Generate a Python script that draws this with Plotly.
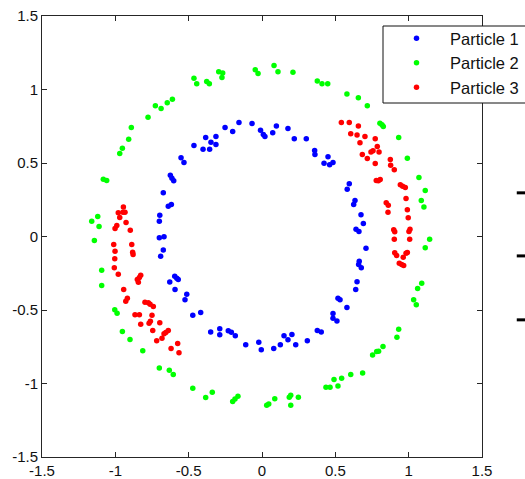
import plotly.graph_objects as go

# Particle 1 (blue, inner ring)
p1_x = [-0.700, -0.668, -0.700, -0.697, -0.639, -0.618, -0.673, -0.625, -0.614, -0.602,
        -0.552, -0.532, -0.464, -0.402, -0.384, -0.357, -0.348, -0.314, -0.314, -0.252,
        -0.200, -0.157, -0.068, -0.010, 0.009, 0.020, 0.073, 0.098, 0.177, 0.220,
        0.302, 0.359, 0.361, 0.423, 0.450, 0.461, 0.484, 0.595, 0.581, 0.634,
        0.625, 0.675, 0.691, 0.641, 0.661, 0.709, 0.663, 0.659, 0.677, 0.648,
        0.639, 0.518, 0.532, 0.579, 0.484, 0.484, 0.511, 0.377, 0.404, 0.309,
        0.204, 0.150, 0.177, 0.230, 0.125, 0.080, -0.005, -0.022, -0.111, -0.182,
        -0.209, -0.230, -0.288, -0.288, -0.350, -0.418, -0.472, -0.513, -0.525, -0.593,
        -0.629, -0.595, -0.581, -0.571, -0.691, -0.673]
p1_y = [-0.009, -0.002, 0.104, 0.145, 0.206, 0.218, 0.297, 0.417, 0.397, 0.379,
        0.536, 0.504, 0.619, 0.594, 0.674, 0.594, 0.642, 0.681, 0.626, 0.742,
        0.715, 0.776, 0.769, 0.722, 0.694, 0.681, 0.706, 0.751, 0.735, 0.665,
        0.665, 0.585, 0.558, 0.499, 0.542, 0.488, 0.504, 0.359, 0.322, 0.245,
        0.218, 0.148, 0.088, 0.050, 0.034, -0.080, -0.168, -0.191, -0.213, -0.308,
        -0.361, -0.420, -0.431, -0.483, -0.524, -0.556, -0.574, -0.640, -0.649, -0.710,
        -0.667, -0.676, -0.703, -0.737, -0.737, -0.762, -0.771, -0.720, -0.737, -0.676,
        -0.651, -0.642, -0.628, -0.669, -0.649, -0.517, -0.536, -0.393, -0.431, -0.361,
        -0.309, -0.270, -0.284, -0.293, -0.134, -0.091]

# Particle 2 (green, outer ring)
p2_x = [-1.161, -1.120, -1.111, -1.143, -1.082, -1.059, -0.970, -0.952, -0.909, -0.891,
        -0.777, -0.727, -0.688, -0.646, -0.611, -0.464, -0.445, -0.377, -0.359, -0.295,
        -0.268, -0.273, -0.046, -0.027, 0.082, 0.109, 0.211, 0.377, 0.409, 0.448,
        0.579, 0.657, 0.718, 0.804, 0.818, 0.827, 0.932, 0.991, 1.070, 1.113,
        1.086, 1.104, 1.143, 1.113, 1.089, 1.061, 1.034, 1.052, 0.932, 0.920,
        0.825, 0.795, 0.782, 0.754, 0.686, 0.605, 0.543, 0.491, 0.518, 0.464,
        0.436, 0.248, 0.196, 0.186, 0.196, 0.087, 0.046, 0.032, -1.093, -1.093,
        -1.004, -0.988, -0.952, -0.900, -0.813, -0.700, -0.632, -0.605, -0.472, -0.384,
        -0.339, -0.200, -0.184, -0.164]
p2_y = [0.104, 0.136, 0.068, -0.027, 0.390, 0.381, 0.565, 0.601, 0.662, 0.742,
        0.812, 0.890, 0.871, 0.910, 0.933, 1.076, 1.039, 1.055, 1.039, 1.121,
        1.112, 1.082, 1.135, 1.108, 1.164, 1.121, 1.118, 1.057, 1.039, 1.039,
        0.969, 0.944, 0.890, 0.771, 0.760, 0.749, 0.674, 0.533, 0.402, 0.313,
        0.245, 0.200, -0.018, -0.077, -0.318, -0.354, -0.431, -0.465, -0.631, -0.685,
        -0.749, -0.781, -0.783, -0.806, -0.928, -0.939, -0.964, -0.973, -1.017, -1.026,
        -1.026, -1.094, -1.080, -1.094, -1.148, -1.103, -1.139, -1.148, -0.229, -0.334,
        -0.499, -0.522, -0.647, -0.701, -0.778, -0.894, -0.910, -0.939, -1.033, -1.096,
        -1.060, -1.123, -1.105, -1.087]

# Particle 3 (red, two arcs)
p3_x = [-0.945, -0.980, -0.948, -0.934, -0.970, -0.927, -0.990, -1.002, -0.898, -1.011,
        -0.888, -1.002, -0.882, -0.879, -1.004, -1.007, -0.980, -0.827, -0.836, -0.850,
        -0.843, -0.943, -0.918, -0.929, -0.798, -0.775, -0.763, -0.741, -0.866, -0.836,
        -0.750, -0.827, -0.761, -0.770, -0.697, -0.745, -0.639, -0.656, -0.668, -0.682,
        -0.718, -0.620, -0.575, -0.566,
        0.541, 0.595, 0.657, 0.605, 0.648, 0.702, 0.668, 0.772, 0.786, 0.798,
        0.757, 0.743, 0.684, 0.718, 0.772, 0.875, 0.877, 0.902, 0.779, 0.793,
        0.806, 0.943, 0.959, 0.977, 0.982, 0.847, 0.861, 0.859, 0.991, 0.997,
        1.009, 1.002, 0.898, 0.905, 0.902, 1.007, 0.905, 0.918, 0.963, 0.982,
        0.991, 0.936, 0.952, 0.966]
p3_y = [0.200, 0.161, 0.165, 0.165, 0.129, 0.095, 0.075, 0.054, 0.043, -0.054,
        -0.054, -0.100, -0.107, -0.123, -0.152, -0.213, -0.257, -0.263, -0.279, -0.293,
        -0.311, -0.361, -0.420, -0.440, -0.447, -0.451, -0.461, -0.477, -0.533, -0.533,
        -0.536, -0.597, -0.577, -0.590, -0.587, -0.640, -0.640, -0.653, -0.662, -0.692,
        -0.710, -0.762, -0.728, -0.790,
        0.776, 0.776, 0.751, 0.699, 0.690, 0.681, 0.638, 0.665, 0.613, 0.574,
        0.583, 0.574, 0.558, 0.531, 0.497, 0.524, 0.485, 0.454, 0.381, 0.379,
        0.388, 0.352, 0.342, 0.334, 0.259, 0.229, 0.213, 0.165, 0.182, 0.127,
        0.050, 0.034, 0.046, 0.032, -0.018, -0.018, -0.111, -0.129, -0.141, -0.114,
        -0.109, -0.182, -0.191, -0.197]

names = ["Particle 1", "Particle 2", "Particle 3"]
colors = ["#0000ff", "#00ff00", "#ff0000"]
tick_vals = [-1.5, -1, -0.5, 0, 0.5, 1, 1.5]
tick_text = ["-1.5", "-1", "-0.5", "0", "0.5", "1", "1.5"]

fig = go.Figure()
for xs, ys, nm, col in zip([p1_x, p2_x, p3_x], [p1_y, p2_y, p3_y], names, colors):
    fig.add_trace(go.Scatter(x=xs, y=ys, mode="markers", name=nm,
                             marker=dict(color=col, size=5.5, line=dict(width=0))))

axis_common = dict(range=[-1.5, 1.5], tickvals=tick_vals, ticktext=tick_text,
                   ticks="inside", ticklen=5, tickwidth=1, tickcolor="#262626",
                   showline=True, linecolor="#262626", linewidth=1, mirror="ticks",
                   showgrid=False, zeroline=False, automargin=False,
                   tickfont=dict(family="Liberation Sans, Arial, sans-serif", size=15, color="#111111"))

fig.update_layout(
    width=525, height=479,
    margin=dict(l=42, r=43, t=16, b=22, autoexpand=False),
    paper_bgcolor="white", plot_bgcolor="white",
    xaxis=axis_common, yaxis=axis_common,
    showlegend=True,
    legend=dict(x=(383 - 42) / 440, y=(457 - 21) / 441, xanchor="left", yanchor="top",
                bgcolor="rgba(0,0,0,0)", borderwidth=0,
                itemwidth=57,
                font=dict(family="Liberation Sans, Arial, sans-serif", size=16.5, color="#111111")),
)

# legend frame (box drawn separately so its height matches the reference)
fig.add_shape(type="rect", xref="paper", yref="paper", layer="above",
              x0=(383 - 42) / 440, x1=1.2, y0=(457 - 103) / 441, y1=(457 - 26) / 441,
              fillcolor="white", line=dict(color="#111111", width=1))

# small black dash artifacts at the right edge of the image
dash_y = [0.599, 0.456, 0.311]
for yy in dash_y:
    fig.add_shape(type="line", xref="paper", yref="paper", x0=1.079, x1=1.11, y0=yy, y1=yy,
                  line=dict(color="black", width=3))

fig.write_html("out.html")
